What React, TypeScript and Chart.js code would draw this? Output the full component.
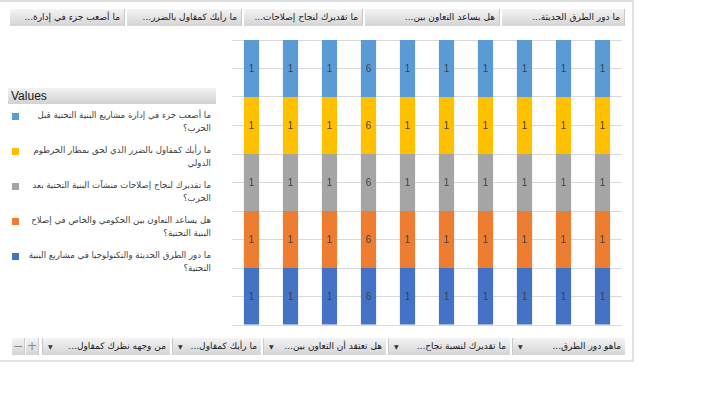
import React, { useEffect, useRef } from 'react';
import { Chart, registerables } from 'chart.js';

Chart.register(...registerables);

// ---------- data ----------
const categories = ['1', '2', '3', '4', '5', '6', '7', '8', '9', '10'];

const seriesNames = [
  'ما دور الطرق الحديثة والتكنولوجيا في مشاريع البنية التحتية؟',
  'هل يساعد التعاون بين الحكومي والخاص في إصلاح البنية التحتية؟',
  'ما تقديرك لنجاح إصلاحات منشآت البنية التحتية بعد الحرب؟',
  'ما رأيك كمقاول بالضرر الذي لحق بمطار الخرطوم الدولي',
  'ما أصعب جزء في إدارة مشاريع البنية التحتية قبل الحرب؟',
];

const roadsValues = [1, 1, 1, 6, 1, 1, 1, 1, 1, 1];
const cooperationValues = [1, 1, 1, 6, 1, 1, 1, 1, 1, 1];
const reformValues = [1, 1, 1, 6, 1, 1, 1, 1, 1, 1];
const airportValues = [1, 1, 1, 6, 1, 1, 1, 1, 1, 1];
const hardestValues = [1, 1, 1, 6, 1, 1, 1, 1, 1, 1];

const seriesValues = [roadsValues, cooperationValues, reformValues, airportValues, hardestValues];
const seriesColors = ['#4472C4', '#ED7D31', '#A5A5A5', '#FFC000', '#5B9BD5'];

const yTicks = [0, 10, 20, 30, 40, 50, 60, 70, 80, 90, 100];

const topFields = [
  'ما أصعب جزء في إدارة...',
  'ما رأيك كمقاول بالضرر...',
  'ما تقديرك لنجاح إصلاحات...',
  'هل يساعد التعاون بين...',
  'ما دور الطرق الحديثة...',
];
const bottomFields = [
  'من وجهه نظرك كمقاول...',
  'ما رأيك كمقاول...',
  'هل تعتقد أن التعاون بين...',
  'ما تقديرك لنسبة نجاح...',
  'ماهو دور الطرق...',
];
const legendTitle = 'Values';

// ---------- layout (not data) ----------
const topRects = [[10, 125], [127, 242], [244, 363], [365, 500], [502, 625]];
const bottomRects = [[42, 170], [172, 261], [263, 386], [388, 510], [512, 625]];

const ARABIC_FONT = '"DejaVu Sans", Tahoma, sans-serif';
const btnBg = 'linear-gradient(#f4f4f4, #d4d4d4)';

const totals = categories.map((_, j) => seriesValues.reduce((s, arr) => s + arr[j], 0));

const valueLabelPlugin = {
  id: 'valueLabels',
  afterDatasetsDraw(chart: any) {
    const ctx = chart.ctx;
    ctx.save();
    ctx.font = '10px "Liberation Sans", Arial, sans-serif';
    ctx.fillStyle = '#404040';
    ctx.textAlign = 'center';
    ctx.textBaseline = 'middle';
    chart.data.datasets.forEach((ds: any, i: number) => {
      const meta = chart.getDatasetMeta(i);
      meta.data.forEach((el: any, j: number) => {
        const p = el.getProps(['x', 'y', 'base'], true);
        ctx.fillText(String(ds.rawValues[j]), p.x, (p.y + p.base) / 2 + 1);
      });
    });
    ctx.restore();
  },
};

function ChartCanvas() {
  const ref = useRef<HTMLCanvasElement>(null);
  useEffect(() => {
    if (!ref.current) return;
    const chart = new Chart(ref.current, {
      type: 'bar',
      data: {
        labels: categories,
        datasets: seriesValues.map((vals, i) => ({
          label: seriesNames[i],
          data: vals.map((v, j) => (v / totals[j]) * 100),
          rawValues: vals,
          backgroundColor: seriesColors[i],
          borderWidth: 0,
          categoryPercentage: 1,
          barPercentage: 0.39,
        })) as any,
      },
      options: {
        animation: false,
        responsive: false,
        maintainAspectRatio: false,
        layout: { padding: { left: 5, right: 5, top: 5, bottom: 6 } },
        plugins: { legend: { display: false }, tooltip: { enabled: false } },
        scales: {
          x: {
            stacked: true,
            display: true,
            grid: { display: false, drawTicks: false },
            ticks: { display: false },
            border: { display: false },
          },
          y: {
            stacked: true,
            min: 0,
            max: 100,
            afterBuildTicks: (axis: any) => {
              axis.ticks = yTicks.map((v) => ({ value: v }));
            },
            grid: { color: '#d9d9d9', drawTicks: false, lineWidth: 1 },
            ticks: { display: false },
            border: { display: false },
          },
        },
      },
      plugins: [valueLabelPlugin],
    });
    return () => chart.destroy();
  }, []);
  return (
    <canvas
      ref={ref}
      width={400}
      height={296}
      style={{ position: 'absolute', left: 227, top: 35, width: 400, height: 296 }}
    />
  );
}

export default function App() {
  return (
    <div
      style={{
        position: 'fixed',
        left: 0,
        top: 0,
        width: 720,
        height: 413,
        background: '#fff',
        overflow: 'hidden',
      }}
    >
      <div
        style={{
          position: 'absolute',
          left: -2,
          top: 0,
          width: 636,
          height: 362,
          borderTop: '2px solid #dedede',
          borderRight: '2px solid #e2e2e2',
          borderBottom: '2px solid #e2e2e2',
          boxSizing: 'border-box',
        }}
      />
      {topFields.map((t, i) => (
        <div
          key={'t' + i}
          style={{
            position: 'absolute',
            left: topRects[i][0],
            top: 9,
            width: topRects[i][1] - topRects[i][0],
            height: 17,
            background: btnBg,
            borderRight: '1px solid #c9c9c9',
            boxSizing: 'border-box',
            direction: 'rtl',
            textAlign: 'right',
            font: `9px ${ARABIC_FONT}`,
            lineHeight: '17px',
            color: '#1a1a1a',
            paddingRight: 4,
            whiteSpace: 'nowrap',
            overflow: 'hidden',
          }}
        >
          {t}
        </div>
      ))}
      {bottomFields.map((t, i) => (
        <div
          key={'b' + i}
          style={{
            position: 'absolute',
            left: bottomRects[i][0],
            top: 338,
            width: bottomRects[i][1] - bottomRects[i][0],
            height: 17,
            background: btnBg,
            borderLeft: '1px solid #c9c9c9',
            boxSizing: 'border-box',
            direction: 'rtl',
            font: `9px ${ARABIC_FONT}`,
            lineHeight: '17px',
            color: '#1a1a1a',
            whiteSpace: 'nowrap',
            overflow: 'hidden',
          }}
        >
          <span style={{ position: 'absolute', right: 4 }}>{t}</span>
          <span style={{ position: 'absolute', left: 5, fontSize: 6, color: '#333' }}>▼</span>
        </div>
      ))}
      {['−', '+'].map((s, i) => (
        <div
          key={'pm' + i}
          style={{
            position: 'absolute',
            left: i === 0 ? 12 : 26,
            top: 338,
            width: 13,
            height: 17,
            background: btnBg,
            borderRight: '1px solid #c9c9c9',
            boxSizing: 'border-box',
            textAlign: 'center',
            font: '12px "DejaVu Sans", sans-serif',
            lineHeight: '17px',
            color: '#8a8a8a',
          }}
        >
          {s}
        </div>
      ))}
      <div
        style={{
          position: 'absolute',
          left: 8,
          top: 88,
          width: 208,
          height: 16,
          background: 'linear-gradient(#f2f2f2, #d2d2d2)',
          font: '12px "Liberation Sans", Arial, sans-serif',
          lineHeight: '16px',
          color: '#1a1a1a',
          paddingLeft: 3,
          boxSizing: 'border-box',
        }}
      >
        {legendTitle}
      </div>
      <div style={{ position: 'absolute', left: 12, top: 109, width: 204 }}>
        {[...seriesNames.keys()].reverse().map((i) => (
          <div key={'l' + i} style={{ display: 'flex', alignItems: 'flex-start', marginBottom: 9 }}>
            <div
              style={{
                width: 7,
                height: 7,
                marginTop: 4,
                background: seriesColors[i],
                flex: 'none',
              }}
            />
            <div
              style={{
                width: 190,
                marginLeft: 2,
                direction: 'rtl',
                textAlign: 'right',
                font: `8.6px ${ARABIC_FONT}`,
                lineHeight: '13px',
                color: '#404040',
              }}
            >
              {seriesNames[i]}
            </div>
          </div>
        ))}
      </div>
      <ChartCanvas />
    </div>
  );
}
